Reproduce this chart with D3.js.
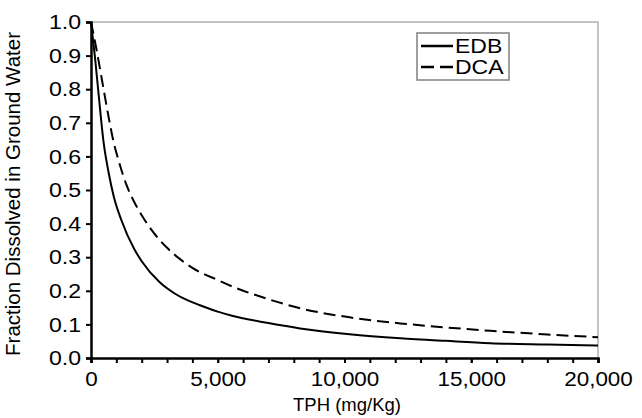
<!DOCTYPE html>
<html><head><meta charset="utf-8">
<script src="https://cdn.jsdelivr.net/npm/d3@7"></script>
<style>
body{margin:0;background:#fff;}
text{font-family:"Liberation Sans",Arial,sans-serif;fill:#000;}
</style></head>
<body><svg id="c" width="642" height="418"></svg>
<script>
const edbX = [0,150,300,500,700,900,1200,1700,2000,2700,3300,3800,4300,5000,5600,7000,8250,10200,12200,14000,15750,18000,20000];
const edbY = [1.0,0.90,0.785,0.64,0.55,0.48,0.41,0.325,0.288,0.226,0.192,0.172,0.157,0.138,0.125,0.104,0.088,0.071,0.059,0.051,0.044,0.040,0.037];
const dcaX = [0,200,450,700,900,1100,1400,1700,2000,2500,3000,3500,4000,5000,5600,7000,8250,10200,12200,14000,15750,18000,20000];
const dcaY = [1.0,0.925,0.82,0.715,0.64,0.585,0.515,0.465,0.425,0.37,0.328,0.295,0.268,0.232,0.212,0.175,0.148,0.121,0.103,0.091,0.081,0.070,0.062];
const xTicks = [0,5000,10000,15000,20000];
const xMinor = d3.range(0,20001,1000);
const yTicks = [0,0.1,0.2,0.3,0.4,0.5,0.6,0.7,0.8,0.9,1.0];
const seriesNames = ["EDB","DCA"];

const svg = d3.select("#c");
const L=91,R=598,T=22,B=358;
const x = d3.scaleLinear().domain([0,20000]).range([L,R]);
const y = d3.scaleLinear().domain([0,1]).range([B,T]);

function stretch(sel, s){
  sel.each(function(){
    const t = d3.select(this);
    const tx = +t.attr("x") || 0;
    t.attr("x",0).attr("transform",`translate(${tx},0) scale(${s},1)`);
  });
}

// top/right border
svg.append("path").attr("d",`M${L},${T}H${R}V${B}`).attr("fill","none").attr("stroke","#b0b0b0").attr("stroke-width",1.5);

const line = d3.line().x(d=>x(d[0])).y(d=>y(d[1])).curve(d3.curveMonotoneX);
svg.append("path").datum(edbX.map((v,i)=>[v,edbY[i]])).attr("d",line)
  .attr("fill","none").attr("stroke","#000").attr("stroke-width",2);
svg.append("path").datum(dcaX.map((v,i)=>[v,dcaY[i]])).attr("d",line)
  .attr("fill","none").attr("stroke","#000").attr("stroke-width",2).attr("stroke-dasharray","12,6");

// axes
const xa = svg.append("g").attr("transform",`translate(0,${B})`)
  .call(d3.axisBottom(x).tickValues(xMinor).tickSize(5).tickFormat(""));
xa.select(".domain").attr("stroke-width",2.5);
xa.selectAll(".tick line").attr("stroke-width",2);
const xl = svg.append("g").attr("transform",`translate(0,${B})`)
  .call(d3.axisBottom(x).tickValues(xTicks).tickSize(5).tickPadding(8).tickFormat(d3.format(",")));
xl.select(".domain").remove();
xl.selectAll(".tick line").attr("stroke-width",2);
xl.selectAll("text").attr("font-size",21).attr("font-family","Liberation Sans, Arial, sans-serif");
stretch(xl.selectAll("text"),1.07);

const ya = svg.append("g").attr("transform",`translate(${L},0)`)
  .call(d3.axisLeft(y).tickValues(yTicks).tickSize(5).tickPadding(5).tickFormat(d3.format(".1f")));
ya.select(".domain").attr("stroke-width",2.5);
ya.selectAll(".tick line").attr("stroke-width",2);
ya.selectAll("text").attr("font-size",21).attr("font-family","Liberation Sans, Arial, sans-serif");
stretch(ya.selectAll("text"),1.1);

svg.append("text").attr("x",347).attr("y",411).attr("text-anchor","middle")
  .attr("font-size",18.5).text("TPH (mg/Kg)");
svg.append("text").attr("transform",`translate(20,${(T+B)/2+4}) rotate(-90)`).attr("text-anchor","middle")
  .attr("font-size",20.5).text("Fraction Dissolved in Ground Water");

// legend
const lg = svg.append("g");
lg.append("rect").attr("x",417).attr("y",33).attr("width",92).attr("height",47)
  .attr("fill","#fff").attr("stroke","#808080").attr("stroke-width",1.5);
seriesNames.forEach((n,i)=>{
  const yy = 46 + i*21;
  lg.append("line").attr("x1",421).attr("x2",453).attr("y1",yy).attr("y2",yy)
    .attr("stroke","#000").attr("stroke-width",2.5).attr("stroke-dasharray", i? "13,6":null);
  lg.append("text").attr("x",455).attr("y",yy+7).attr("font-size",20).text(n)
    .call(s=>stretch(s,1.15));
});
</script></body></html>
